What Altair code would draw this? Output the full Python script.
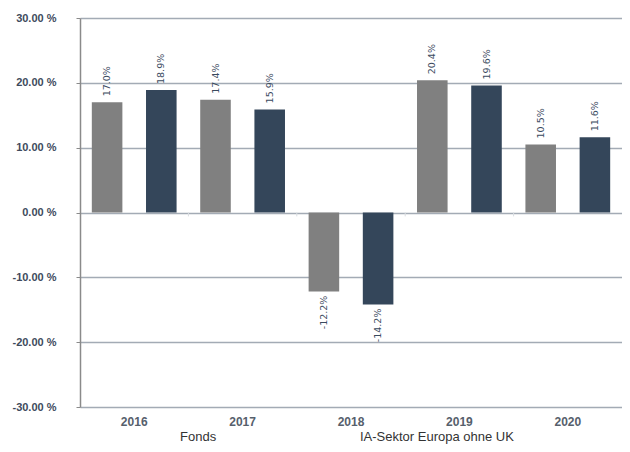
import altair as alt
import pandas as pd

years = ["2016", "2017", "2018", "2019", "2020"]
series = ["Fonds", "IA-Sektor Europa ohne UK"]
fonds = [17.0, 17.4, -12.2, 20.4, 10.5]
sektor = [18.9, 15.9, -14.2, 19.6, 11.6]
y_ticks = [-30, -20, -10, 0, 10, 20, 30]
colors = ["#808080", "#34465a"]

rows = []
for i, yr in enumerate(years):
    rows.append({"year": yr, "series": series[0], "value": fonds[i]})
    rows.append({"year": yr, "series": series[1], "value": sektor[i]})
df = pd.DataFrame(rows)
df["label"] = df["value"].map(lambda v: f"{v:.1f}%")

bounds = pd.DataFrame({"year": years[1:]})

xenc = alt.X("year:N", sort=years, title=None,
             scale=alt.Scale(paddingInner=0, paddingOuter=0),
             axis=alt.Axis(labelFont="Liberation Sans", labelFontSize=12, labelFontWeight="bold",
                           labelColor="#56606c", labelPadding=9, ticks=False, domain=False,
                           labelAngle=0, bandPosition=0.5))
yscale = alt.Scale(domain=[-30, 30], nice=False)
xoff = alt.XOffset("series:N", sort=series,
                   scale=alt.Scale(paddingInner=0.436, paddingOuter=0.218))

bars = alt.Chart(df).mark_bar().encode(
    x=xenc,
    xOffset=xoff,
    y=alt.Y("value:Q", scale=yscale, title=None,
            axis=alt.Axis(values=y_ticks, labelExpr="(datum.value < 0 ? '-' : '') + format(abs(datum.value), '.2f') + ' %'",
                          labelFont="Liberation Sans", labelFontSize=11, labelFontWeight="bold",
                          labelColor="#3e4a5c", labelPadding=20, tickSize=4, tickColor="#8a8a8a",
                          domainColor="#8a8a8a", domainWidth=1.5,
                          gridColor="#a3abb5", gridWidth=1.5)),
    y2=alt.datum(0),
    color=alt.Color("series:N", sort=series, scale=alt.Scale(domain=series, range=colors),
                    legend=alt.Legend(title=None, orient="none", legendX=83, legendY=412,
                                      direction="horizontal", symbolOpacity=0, symbolStrokeWidth=0,
                                      symbolType="square", symbolSize=100, labelOffset=4,
                                      columnPadding=126, padding=0,
                                      labelFont="Liberation Sans", labelFontSize=13,
                                      labelColor="#333333")),
)

pos = alt.Chart(df).transform_filter("datum.value >= 0").mark_text(
    angle=270, align="left", baseline="middle", dx=6,
    font="DejaVu Sans", fontSize=9.5, color="#3a4a5e"
).encode(x=alt.X("year:N", sort=years), xOffset=xoff, y=alt.Y("value:Q", scale=yscale), text="label:N")

neg = alt.Chart(df).transform_filter("datum.value < 0").mark_text(
    angle=270, align="right", baseline="middle", dx=-4,
    font="DejaVu Sans", fontSize=9.5, color="#3a4a5e"
).encode(x=alt.X("year:N", sort=years), xOffset=xoff, y=alt.Y("value:Q", scale=yscale), text="label:N")

ticks = alt.Chart(bounds).mark_rule(color="#d8dce0", strokeWidth=1).encode(
    x=alt.X("year:N", sort=years, bandPosition=0),
    y=alt.datum(0),
    y2=alt.datum(-0.6),
)

chart = alt.layer(bars, pos, neg, ticks).properties(
    width=542, height=389,
    padding={"left": 72, "top": 10, "right": 0, "bottom": 37},
    autosize=alt.AutoSizeParams(type="none"),
).configure_view(stroke=None).configure_axisX(grid=False)

chart.save("out.html", embed_options={"renderer": "svg", "actions": False})
